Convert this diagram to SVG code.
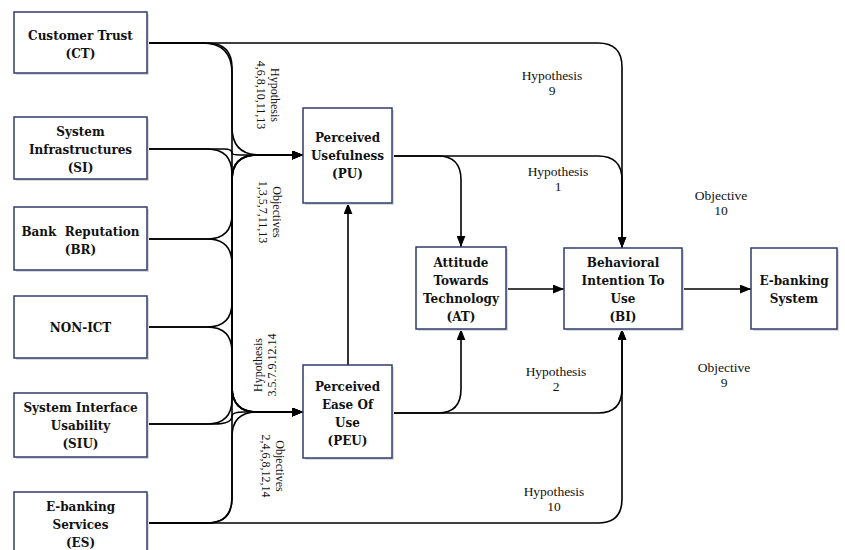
<svg xmlns="http://www.w3.org/2000/svg" width="845" height="550" viewBox="0 0 845 550">
<style>
.box{fill:#fff;stroke:#2f3d6e;stroke-width:1.5}
.sh{fill:#d9d9d9}
.nt{font-family:"DejaVu Serif","Liberation Serif",serif;font-weight:bold;font-size:12px;fill:#111;text-anchor:middle}
.lb{font-family:"Liberation Serif","DejaVu Serif",serif;font-size:13.5px;fill:#111;text-anchor:middle}
.rl{font-family:"Liberation Serif","DejaVu Serif",serif;font-size:12px;fill:#111;text-anchor:middle}
.c{fill:none;stroke:#000;stroke-width:1.6}
</style>
<defs>
<marker id="ar" viewBox="0 0 10 8" refX="10" refY="4" markerWidth="11" markerHeight="9" markerUnits="userSpaceOnUse" orient="auto">
<path d="M0,0 L10,4 L0,8 Z" fill="#000"/>
</marker>
</defs>
<rect width="845" height="550" fill="#fff"/>

<g id="connectors">
<path class="c" d="M147,43 H202 Q232,43 232,73 V127 Q232,155 260,155 H303" marker-end="url(#ar)"/>
<path class="c" d="M147,149 H224 Q232,149 232,153 Q232,155 240,155 H303" marker-end="url(#ar)"/>
<path class="c" d="M147,239 H207 Q232,239 232,214 V180 Q232,155 257,155 H303" marker-end="url(#ar)"/>
<path class="c" d="M147,327 H207 Q232,327 232,302 V180 Q232,155 257,155 H303" marker-end="url(#ar)"/>
<path class="c" d="M147,424 H207 Q232,424 232,399 V180 Q232,155 257,155 H303" marker-end="url(#ar)"/>
<path class="c" d="M147,523 H207 Q232,523 232,498 V180 Q232,155 257,155 H303" marker-end="url(#ar)"/>
<path class="c" d="M147,43 H207 Q232,43 232,68 V387 Q232,412 257,412 H303" marker-end="url(#ar)"/>
<path class="c" d="M147,149 H207 Q232,149 232,174 V387 Q232,412 257,412 H303" marker-end="url(#ar)"/>
<path class="c" d="M147,239 H207 Q232,239 232,264 V387 Q232,412 257,412 H303" marker-end="url(#ar)"/>
<path class="c" d="M147,327 H207 Q232,327 232,352 V387 Q232,412 257,412 H303" marker-end="url(#ar)"/>
<path class="c" d="M147,424 H214 Q232,424 232,416 Q232,412 244,412 H303" marker-end="url(#ar)"/>
<path class="c" d="M147,523 H207 Q232,523 232,498 V437 Q232,412 257,412 H303" marker-end="url(#ar)"/>
<path class="c" d="M147,43 H598 Q622,43 622,67 V248" marker-end="url(#ar)"/>
<path class="c" d="M392,156 H598 Q622,156 622,180 V248" marker-end="url(#ar)"/>
<path class="c" d="M392,413 H598 Q622,413 622,389 V329" marker-end="url(#ar)"/>
<path class="c" d="M147,523 H598 Q622,523 622,499 V329" marker-end="url(#ar)"/>
<path class="c" d="M392,156 H438 Q461,156 461,180 V247" marker-end="url(#ar)"/>
<path class="c" d="M392,413 H438 Q461,413 461,389 V329" marker-end="url(#ar)"/>
<path class="c" d="M348,365 V203" marker-end="url(#ar)"/>
<path class="c" d="M506,289 H564" marker-end="url(#ar)"/>
<path class="c" d="M682,289 H751" marker-end="url(#ar)"/>
</g>

<g id="CT"><rect class="sh" x="16" y="14" width="133" height="61"/><rect class="box" x="14" y="12" width="133" height="61"/>
<text class="nt"><tspan x="80.5" y="40">Customer Trust</tspan><tspan x="80.5" y="58">(CT)</tspan></text></g>
<g id="SI"><rect class="sh" x="16" y="119" width="133" height="62"/><rect class="box" x="14" y="117" width="133" height="62"/>
<text class="nt"><tspan x="80.5" y="136">System</tspan><tspan x="80.5" y="154">Infrastructures</tspan><tspan x="80.5" y="172">(SI)</tspan></text></g>
<g id="BR"><rect class="sh" x="16" y="209" width="133" height="63"/><rect class="box" x="14" y="207" width="133" height="63"/>
<text class="nt" xml:space="preserve"><tspan x="80.5" y="236">Bank  Reputation</tspan><tspan x="80.5" y="254">(BR)</tspan></text></g>
<g id="NONICT"><rect class="sh" x="16" y="298" width="133" height="62"/><rect class="box" x="14" y="296" width="133" height="62"/>
<text class="nt" x="80.5" y="332">NON-ICT</text></g>
<g id="SIU"><rect class="sh" x="16" y="395" width="133" height="64"/><rect class="box" x="14" y="393" width="133" height="64"/>
<text class="nt"><tspan x="80.5" y="412">System Interface</tspan><tspan x="80.5" y="430">Usability</tspan><tspan x="80.5" y="448">(SIU)</tspan></text></g>
<g id="ES"><rect class="sh" x="16" y="494" width="133" height="64"/><rect class="box" x="14" y="492" width="133" height="64"/>
<text class="nt"><tspan x="80.5" y="511">E-banking</tspan><tspan x="80.5" y="529">Services</tspan><tspan x="80.5" y="547">(ES)</tspan></text></g>

<g id="PU"><rect class="sh" x="305" y="110" width="89" height="95"/><rect class="box" x="303" y="108" width="89" height="95"/>
<text class="nt"><tspan x="347.5" y="142">Perceived</tspan><tspan x="347.5" y="160">Usefulness</tspan><tspan x="347.5" y="178">(PU)</tspan></text></g>
<g id="PEU"><rect class="sh" x="305" y="367" width="89" height="93"/><rect class="box" x="303" y="365" width="89" height="93"/>
<text class="nt"><tspan x="347.5" y="391">Perceived</tspan><tspan x="347.5" y="409">Ease Of</tspan><tspan x="347.5" y="427">Use</tspan><tspan x="347.5" y="445">(PEU)</tspan></text></g>
<g id="AT"><rect class="sh" x="418" y="249" width="90" height="82"/><rect class="box" x="416" y="247" width="90" height="82"/>
<text class="nt"><tspan x="461" y="267">Attitude</tspan><tspan x="461" y="285">Towards</tspan><tspan x="461" y="303">Technology</tspan><tspan x="461" y="321">(AT)</tspan></text></g>
<g id="BI"><rect class="sh" x="566" y="250" width="118" height="81"/><rect class="box" x="564" y="248" width="118" height="81"/>
<text class="nt"><tspan x="623" y="267">Behavioral</tspan><tspan x="623" y="285">Intention To</tspan><tspan x="623" y="303">Use</tspan><tspan x="623" y="321">(BI)</tspan></text></g>
<g id="EBS"><rect class="sh" x="753" y="250" width="86" height="81"/><rect class="box" x="751" y="248" width="86" height="81"/>
<text class="nt"><tspan x="794" y="285">E-banking</tspan><tspan x="794" y="303">System</tspan></text></g>

<g id="labels">
<text class="lb"><tspan x="552" y="80">Hypothesis</tspan><tspan x="552" y="95">9</tspan></text>
<text class="lb"><tspan x="558" y="176">Hypothesis</tspan><tspan x="558" y="191">1</tspan></text>
<text class="lb"><tspan x="721" y="200">Objective</tspan><tspan x="721" y="215">10</tspan></text>
<text class="lb"><tspan x="556" y="376">Hypothesis</tspan><tspan x="556" y="391">2</tspan></text>
<text class="lb"><tspan x="724" y="372">Objective</tspan><tspan x="724" y="387">9</tspan></text>
<text class="lb"><tspan x="554" y="496">Hypothesis</tspan><tspan x="554" y="511">10</tspan></text>
<text class="rl" transform="translate(268,95) rotate(90)"><tspan x="0" y="-3">Hypothesis</tspan><tspan x="0" y="11">4,6,8,10,11,13</tspan></text>
<text class="rl" transform="translate(270,212) rotate(90)"><tspan x="0" y="-3">Objectives</tspan><tspan x="0" y="11">1,3,5,7,11,13</tspan></text>
<text class="rl" transform="translate(265,365) rotate(-90)"><tspan x="0" y="-3">Hypothesis</tspan><tspan x="0" y="11">3.5.7.9.12.14</tspan></text>
<text class="rl" transform="translate(273,466) rotate(90)"><tspan x="0" y="-3">Objectives</tspan><tspan x="0" y="11">2,4,6,8,12,14</tspan></text>
</g>
</svg>
